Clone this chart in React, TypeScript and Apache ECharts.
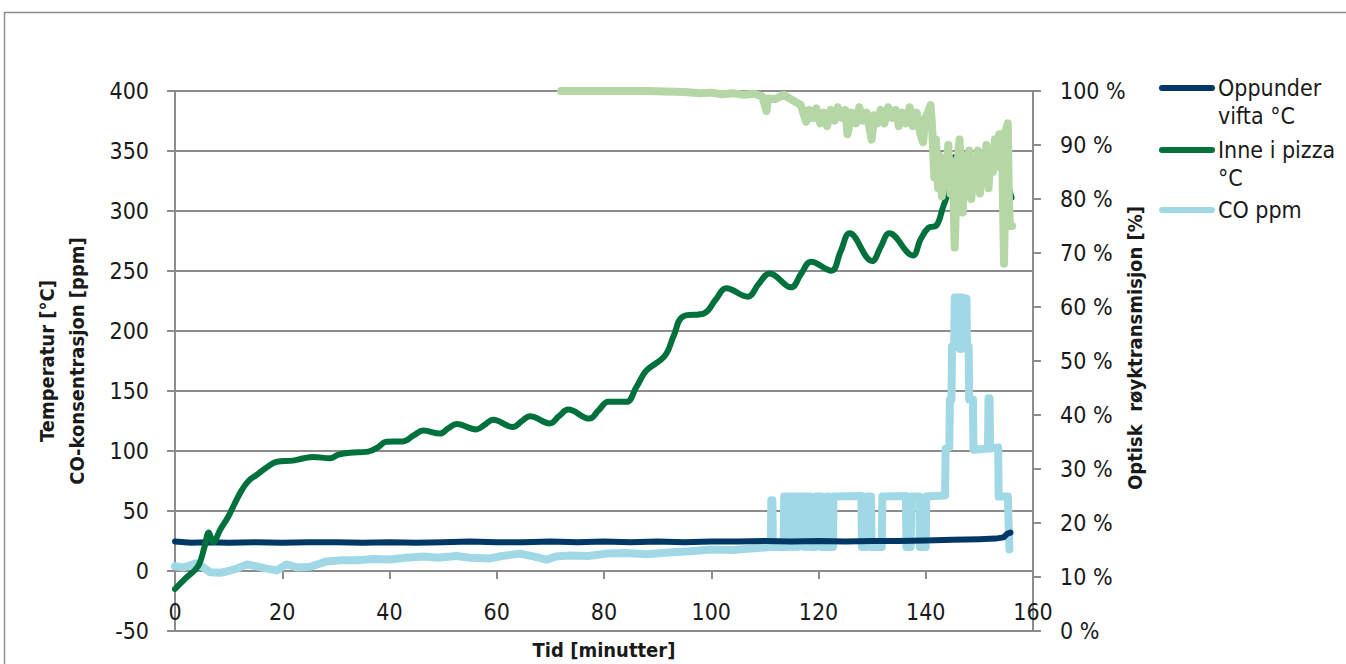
import React, { useEffect, useRef } from "react";
import * as echarts from "echarts";

const FONT = "'DejaVu Sans Condensed', 'Liberation Sans Narrow', Roboto, sans-serif";

const xTicks = { min: 0, max: 160, interval: 20 };
const leftTicks = { min: -50, max: 400, interval: 50 };
const rightTicks = { min: 0, max: 100, interval: 10 };

const seriesNames = ["Oppunder vifta °C", "Inne i pizza °C", "CO ppm", "Optisk røyktransmisjon"];
const legendLabels = ["Oppunder\nvifta °C", "Inne i pizza\n°C", "CO ppm"];

const colors = {
  navy: "#003865",
  green: "#00703c",
  lightBlue: "#a0d9e5",
  lightGreen: "#b5d6a5",
  grid: "#8c8c8c",
};

// Oppunder vifta °C  [minutes, °C]
const oppunderVifta: [number, number][] = [
  [0, 24.5], [3, 23.5], [6, 24], [10, 23.5], [15, 24], [20, 23.5], [25, 24], [30, 24],
  [35, 23.5], [40, 24], [45, 23.5], [50, 24], [55, 24.5], [60, 24], [65, 24], [70, 24.5],
  [75, 24], [80, 24.5], [85, 24], [90, 24.5], [95, 24], [100, 24.5], [105, 24.5], [110, 25],
  [115, 24.5], [120, 25], [125, 24.5], [130, 25], [135, 25], [140, 25.5], [145, 26], [150, 26.5],
  [153, 27], [154.5, 28], [155.2, 31], [155.8, 32],
];

// Inne i pizza °C  [minutes, °C]
const innePizza: [number, number][] = [
  [0, -15], [2, -6], [4.3, 4], [5.5, 20], [6.3, 32], [7.1, 24], [8.5, 35], [9.9, 45],
  [11, 55], [12.4, 67], [13.7, 75], [15.2, 80], [17, 86], [19, 91], [22, 92], [24, 94],
  [25.8, 95], [28.9, 94], [30.5, 97], [32.6, 98.6], [36, 99.5], [37.8, 103], [39.4, 107.8],
  [42.5, 108], [44.5, 113], [46.3, 117], [49.4, 114.5], [51, 119], [52.5, 122.5], [56.2, 118],
  [57.8, 122], [59.3, 126], [63, 120], [64.7, 125], [66.2, 129], [69.9, 123], [71.6, 129],
  [73.3, 134.5], [77.3, 127], [79, 134], [80.8, 141], [84.2, 141], [86, 153], [87.9, 167],
  [91.3, 179], [93, 196], [94.7, 212], [98.8, 215], [100.8, 226], [102.8, 235.6], [106.8, 228.6],
  [108.8, 239], [110.9, 248], [114.9, 236.4], [116.8, 248], [118.6, 257.8], [122.4, 250.3],
  [124.1, 266], [125.8, 281.4], [130, 258.3], [131.6, 270], [133.2, 281.4], [137.6, 263],
  [139, 276], [140.5, 286], [142, 288], [143.2, 303], [144.1, 315], [145.4, 345], [147, 342],
  [149, 338], [151, 342], [153.7, 337], [155, 325], [156, 311],
];

// CO ppm  [minutes, ppm]
const coPpm: [number, number][] = [
  [0, 4], [1.5, 3], [3, 5], [4, 6.5], [5, 4], [6.5, -1], [8.4, -1.5], [10, 0], [11.5, 2],
  [13.4, 5.5], [15, 4], [17.1, 2], [19, 0.5], [20.8, 5.5], [22.7, 3], [25.2, 3.5], [28.3, 8],
  [31, 9], [33.9, 9], [37, 10], [40, 9.5], [43, 11], [46.3, 12], [49, 11], [52.5, 12.5],
  [55, 11], [58.7, 10.5], [61, 12.5], [64.3, 14.5], [67, 12], [69.3, 9.5], [71, 12],
  [73.6, 13], [77, 12.5], [80.5, 14.5], [84, 15], [88, 14], [92, 15.5], [96, 16.5], [100, 18],
  [104, 17.5], [108, 19], [111.1, 20], [111.2, 59], [111.4, 59], [111.5, 20], [113.5, 20],
  [113.6, 62], [113.9, 62], [114, 20], [114.2, 20], [114.3, 62], [114.9, 62], [115, 20],
  [115.2, 20], [115.3, 62], [115.9, 62], [116, 20], [116.2, 20], [116.3, 62], [117.3, 62],
  [117.4, 20], [117.6, 20], [117.7, 62], [118.4, 62], [118.5, 20], [119.4, 20], [119.5, 62],
  [120.5, 62], [120.6, 20], [121.5, 20], [121.6, 62], [121.8, 62], [121.9, 20], [122.7, 20],
  [122.8, 62], [128, 62.5], [128.1, 20], [129, 20], [129.1, 62], [129.8, 62], [129.9, 20],
  [131.8, 20], [131.9, 62], [136.3, 62.5], [136.4, 20], [137.2, 20], [137.3, 62], [138.8, 62],
  [138.9, 20], [140, 20], [140.1, 62], [143.6, 63], [143.7, 102], [144.4, 103], [144.5, 143],
  [144.8, 143], [144.9, 187], [145.3, 187], [145.4, 228], [146.3, 228], [146.4, 185],
  [146.6, 185], [146.7, 228], [147.6, 227], [147.7, 187], [148, 187], [148.1, 143],
  [148.8, 143], [148.9, 101], [151.6, 102], [151.7, 144], [151.9, 144], [152, 102],
  [153.5, 103], [153.6, 62], [155.3, 62], [155.6, 18],
];

// Optisk røyktransmisjon [%]  [minutes, %]
const transmisjon: [number, number][] = [
  [72, 100], [80, 100], [88, 100], [95, 99.8], [98, 99.6], [100, 99.7], [102, 99.4],
  [104, 99.6], [106, 99.3], [108, 99.5], [109.5, 99], [110.3, 96.3], [110.6, 98.6], [112, 98.5],
  [113.5, 99.3], [115, 98.4], [116.7, 97.4], [117.7, 94.3], [118.3, 96.5], [119, 95],
  [119.6, 96.8], [120.3, 94], [121, 96], [121.6, 93.5], [122.3, 96.5], [123, 94.5],
  [123.6, 97], [124.3, 95], [125, 96.5], [125.4, 92], [126.2, 96], [127, 94], [127.6, 97],
  [128.3, 94.5], [129, 96], [129.9, 91], [130.4, 95.5], [131, 94], [131.6, 96.5], [132.3, 94],
  [133, 97], [133.7, 95], [134.4, 96.5], [135, 93.5], [135.6, 96], [136.3, 94], [137, 97],
  [137.6, 93.5], [138.3, 96], [139, 92], [139.5, 90.5], [139.9, 95], [140.4, 96], [140.9, 97.4],
  [141.2, 93], [141.6, 84], [141.9, 91], [142.3, 82], [142.6, 88], [143, 80.5], [143.4, 87],
  [143.8, 83], [144.2, 90], [144.6, 81], [145, 87], [145.4, 71], [145.8, 85], [146.3, 91],
  [146.6, 84], [146.9, 77.5], [147.3, 88], [147.7, 82], [148.1, 89], [148.5, 80], [148.9, 86],
  [149.3, 82], [149.7, 89], [150.1, 81], [150.5, 88], [150.9, 84], [151.3, 90], [151.7, 82],
  [152.1, 88], [152.5, 85], [152.9, 91], [153.3, 86], [153.7, 92], [154.2, 92], [154.6, 68],
  [155, 93], [155.3, 94], [155.5, 80], [155.7, 75], [156.1, 75],
];

export default function App() {
  const ref = useRef<HTMLDivElement>(null);

  useEffect(() => {
    if (!ref.current) return;
    const chart = echarts.init(ref.current, undefined, { renderer: "svg" });
    const labelStyle = { color: "#1a1a1a", fontFamily: FONT, fontSize: 23 };
    const legendItems = [
      { color: colors.navy, y: 88 },
      { color: colors.green, y: 150 },
      { color: colors.lightBlue, y: 210 },
    ];
    const graphic: any[] = [
      {
        type: "rect",
        shape: { x: 4.5, y: 12.5, width: 1400, height: 700 },
        style: { fill: "none", stroke: "#8c8c8c", lineWidth: 1.5 },
        silent: true,
      },
    ];
    legendItems.forEach((it, i) => {
      graphic.push({
        type: "line",
        shape: { x1: 1162, y1: it.y, x2: 1212, y2: it.y },
        style: { stroke: it.color, lineWidth: 6, lineCap: "round" },
      });
      graphic.push({
        type: "text",
        x: 1218,
        y: it.y - 14,
        style: {
          text: legendLabels[i],
          fill: "#1a1a1a",
          font: `23px ${FONT}`,
          lineHeight: 28,
          verticalAlign: "top",
          align: "left",
        },
      });
    });

    chart.setOption({
      animation: false,
      backgroundColor: "#ffffff",
      grid: { left: 175, right: 313, top: 91, bottom: 33, containLabel: false, outerBoundsMode: "none" },
      graphic,
      xAxis: {
        type: "value",
        min: xTicks.min,
        max: xTicks.max,
        interval: xTicks.interval,
        position: "bottom",
        offset: -60,
        name: "Tid [minutter]",
        nameLocation: "middle",
        nameGap: 69,
        nameTextStyle: { fontFamily: FONT, fontSize: 20, fontWeight: "bold", color: "#1a1a1a" },
        axisLine: { show: true, onZero: false, lineStyle: { color: colors.grid, width: 2 } },
        axisTick: { show: true, length: 8, lineStyle: { color: colors.grid, width: 2 } },
        axisLabel: { ...labelStyle, margin: 29 },
        splitLine: { show: false },
      },
      yAxis: [
        {
          type: "value",
          min: leftTicks.min,
          max: leftTicks.max,
          interval: leftTicks.interval,
          name: "Temperatur [°C]\nCO-konsentrasjon [ppm]",
          nameLocation: "middle",
          nameGap: 83,
          nameMoveOverlap: false,
          nameTextStyle: { fontFamily: FONT, fontSize: 20, fontWeight: "bold", color: "#1a1a1a", lineHeight: 30 },
          axisLine: { show: true, lineStyle: { color: colors.grid, width: 2 } },
          axisTick: { show: true, length: 8, lineStyle: { color: colors.grid, width: 2 } },
          axisLabel: { ...labelStyle, margin: 26 },
          splitLine: { show: true, lineStyle: { color: colors.grid, width: 2 } },
        },
        {
          type: "value",
          min: rightTicks.min,
          max: rightTicks.max,
          interval: rightTicks.interval,
          position: "right",
          name: "Optisk  røyktransmisjon [%]",
          nameLocation: "middle",
          nameGap: 92,
          nameMoveOverlap: false,
          nameTextStyle: { fontFamily: FONT, fontSize: 20, fontWeight: "bold", color: "#1a1a1a", padding: [0, 0, 0, 26] },
          axisLine: { show: true, lineStyle: { color: colors.grid, width: 2 } },
          axisTick: { show: true, length: 8, lineStyle: { color: colors.grid, width: 2 } },
          axisLabel: { ...labelStyle, margin: 27, formatter: (v: number) => `${v} %` },
          splitLine: { show: false },
        },
      ],
      series: [
        {
          name: seriesNames[2],
          type: "line",
          yAxisIndex: 0,
          data: coPpm,
          showSymbol: false,
          lineStyle: { color: colors.lightBlue, width: 8, join: "round", cap: "round" },
          itemStyle: { color: colors.lightBlue },
          z: 2,
        },
        {
          name: seriesNames[0],
          type: "line",
          yAxisIndex: 0,
          data: oppunderVifta,
          showSymbol: false,
          lineStyle: { color: colors.navy, width: 6, join: "round", cap: "round" },
          itemStyle: { color: colors.navy },
          z: 3,
        },
        {
          name: seriesNames[1],
          type: "line",
          yAxisIndex: 0,
          data: innePizza,
          smooth: 0.4,
          showSymbol: false,
          lineStyle: { color: colors.green, width: 6, join: "round", cap: "round" },
          itemStyle: { color: colors.green },
          z: 4,
        },
        {
          name: seriesNames[3],
          type: "line",
          yAxisIndex: 1,
          data: transmisjon,
          showSymbol: false,
          lineStyle: { color: colors.lightGreen, width: 8, join: "round", cap: "round" },
          itemStyle: { color: colors.lightGreen },
          z: 5,
        },
      ],
    });
    return () => chart.dispose();
  }, []);

  return (
    <div
      ref={ref}
      style={{ position: "fixed", left: 0, top: 0, width: 1346, height: 664, background: "#fff" }}
    />
  );
}
